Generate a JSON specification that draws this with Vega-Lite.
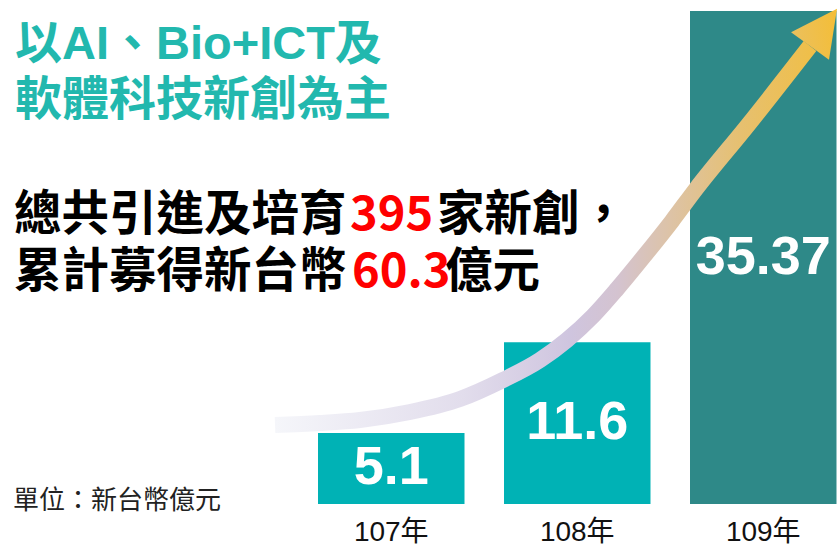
{
  "$schema": "https://vega.github.io/schema/vega-lite/v6.json",
  "width": 838,
  "height": 504,
  "autosize": {"type": "none"},
  "padding": {"left": 0, "top": 0, "right": 0, "bottom": 41},
  "background": "white",
  "config": {"view": {"stroke": null}},
  "datasets": {
    "bars": [
      {"year": "107年", "value": 5.1},
      {"year": "108年", "value": 11.6},
      {"year": "109年", "value": 35.37}
    ],
    "arrow": [
      {"ax": 32.82, "ay": 15.67},
      {"ax": 38.19, "ay": 16.07},
      {"ax": 42.96, "ay": 16.67},
      {"ax": 48.93, "ay": 18.25},
      {"ax": 54.89, "ay": 20.83},
      {"ax": 60.02, "ay": 24.60},
      {"ax": 64.44, "ay": 28.57},
      {"ax": 67.66, "ay": 32.54},
      {"ax": 70.76, "ay": 37.30},
      {"ax": 73.63, "ay": 42.66},
      {"ax": 76.97, "ay": 49.40},
      {"ax": 80.19, "ay": 56.15},
      {"ax": 83.05, "ay": 62.50},
      {"ax": 89.26, "ay": 75.20},
      {"ax": 96.66, "ay": 90.87}
    ],
    "head": [{"ax": 96.66, "ay": 90.87}],
    "texts": [
      {"ax": 1.79, "ay": 91.07, "text": "以AI、Bio+ICT及", "group": "title"},
      {"ax": 1.79, "ay": 79.96, "text": "軟體科技新創為主", "group": "title"},
      {"ax": 1.67, "ay": 57.14, "text": "總共引進及培育", "group": "body"},
      {"ax": 41.77, "ay": 57.14, "text": "395", "group": "highlight"},
      {"ax": 52.15, "ay": 57.14, "text": "家新創，", "group": "body"},
      {"ax": 1.67, "ay": 45.83, "text": "累計募得新台幣", "group": "body"},
      {"ax": 42.0, "ay": 45.83, "text": "60.3", "group": "highlight"},
      {"ax": 53.1, "ay": 45.83, "text": "億元", "group": "body"},
      {"ax": 1.55, "ay": 0.6, "text": "單位：新台幣億元", "group": "unit"}
    ]
  },
  "layer": [
    {
      "data": {"name": "bars"},
      "mark": {"type": "bar"},
      "encoding": {
        "x": {
          "field": "year",
          "type": "nominal",
          "sort": null,
          "scale": {"type": "band", "paddingInner": 0.2124, "paddingOuter": 0.8589, "align": 0.9953},
          "axis": {
            "title": null,
            "domain": false,
            "ticks": false,
            "tickSize": 0,
            "grid": false,
            "labelAngle": 0,
            "labelPadding": 28,
            "labelBaseline": "middle",
            "labelFontSize": 28,
            "labelFont": "Liberation Sans, Noto Sans CJK TC",
            "labelFontWeight": "normal",
            "labelColor": "#111111"
          }
        },
        "y": {
          "field": "value",
          "type": "quantitative",
          "scale": {"domain": [0, 36.16], "nice": false},
          "axis": null
        },
        "color": {
          "field": "year",
          "type": "nominal",
          "scale": {"domain": ["107年", "108年", "109年"], "range": ["#00B2B5", "#00B2B5", "#2E8988"]},
          "legend": null
        }
      }
    },
    {
      "data": {"name": "arrow"},
      "mark": {
        "type": "line",
        "strokeWidth": 16,
        "interpolate": "monotone",
        "strokeCap": "butt",
        "stroke": {
          "gradient": "linear",
          "x1": 0, "y1": 0, "x2": 1, "y2": 0,
          "stops": [
            {"offset": 0, "color": "#F5F6FA"},
            {"offset": 0.35, "color": "#E2DDEC"},
            {"offset": 0.55, "color": "#CFC5DF"},
            {"offset": 0.64, "color": "#D4C3D0"},
            {"offset": 0.74, "color": "#DDC3A6"},
            {"offset": 0.87, "color": "#E6C070"},
            {"offset": 1, "color": "#EFBF4A"}
          ]
        }
      },
      "encoding": {
        "x": {"field": "ax", "type": "quantitative", "scale": {"domain": [0, 100], "nice": false, "zero": false}, "axis": null},
        "y": {"field": "ay", "type": "quantitative", "scale": {"domain": [0, 100], "nice": false, "zero": false}, "axis": null}
      }
    },
    {
      "data": {"name": "head"},
      "mark": {
        "type": "point",
        "filled": true,
        "opacity": 1,
        "shape": "M0,-1L0.51,0L-0.51,0Z",
        "size": 8464,
        "angle": 36,
        "strokeWidth": 0,
        "fill": {
          "gradient": "linear",
          "x1": 0, "y1": 1, "x2": 1, "y2": 0,
          "stops": [
            {"offset": 0, "color": "#EBC05E"},
            {"offset": 1, "color": "#F7BD28"}
          ]
        }
      },
      "encoding": {
        "x": {"field": "ax", "type": "quantitative", "scale": {"domain": [0, 100], "nice": false, "zero": false}, "axis": null},
        "y": {"field": "ay", "type": "quantitative", "scale": {"domain": [0, 100], "nice": false, "zero": false}, "axis": null}
      }
    },
    {
      "data": {"name": "bars"},
      "transform": [{"calculate": "datum.value / 2", "as": "mid"}],
      "mark": {"type": "text", "color": "white", "fontSize": 54, "fontWeight": "bold", "font": "Liberation Sans", "baseline": "middle", "align": "center"},
      "encoding": {
        "x": {
          "field": "year",
          "type": "nominal",
          "sort": null,
          "bandPosition": 0.5,
          "scale": {"type": "band", "paddingInner": 0.2124, "paddingOuter": 0.8589, "align": 0.9953},
          "axis": null
        },
        "y": {"field": "mid", "type": "quantitative", "scale": {"domain": [0, 36.16], "nice": false}, "axis": null},
        "text": {"field": "value", "type": "nominal"}
      }
    },
    {
      "data": {"name": "texts"},
      "layer": [
        {
          "transform": [{"filter": "datum.group === 'title'"}],
          "mark": {"type": "text", "align": "left", "baseline": "middle", "font": "Liberation Sans, Noto Sans CJK TC", "fontSize": 47, "fontWeight": "bold", "color": "#22B8AE"},
          "encoding": {
            "x": {"field": "ax", "type": "quantitative", "scale": {"domain": [0, 100], "nice": false, "zero": false}, "axis": null},
            "y": {"field": "ay", "type": "quantitative", "scale": {"domain": [0, 100], "nice": false, "zero": false}, "axis": null},
            "text": {"field": "text"}
          }
        },
        {
          "transform": [{"filter": "datum.group === 'body'"}],
          "mark": {"type": "text", "align": "left", "baseline": "middle", "font": "Noto Sans CJK TC", "fontSize": 47.5, "fontWeight": "bold", "color": "#000000"},
          "encoding": {
            "x": {"field": "ax", "type": "quantitative", "scale": {"domain": [0, 100], "nice": false, "zero": false}, "axis": null},
            "y": {"field": "ay", "type": "quantitative", "scale": {"domain": [0, 100], "nice": false, "zero": false}, "axis": null},
            "text": {"field": "text"}
          }
        },
        {
          "transform": [{"filter": "datum.group === 'highlight'"}],
          "mark": {"type": "text", "align": "left", "baseline": "middle", "font": "Noto Sans CJK TC", "fontSize": 47, "fontWeight": "bold", "color": "#FF0000"},
          "encoding": {
            "x": {"field": "ax", "type": "quantitative", "scale": {"domain": [0, 100], "nice": false, "zero": false}, "axis": null},
            "y": {"field": "ay", "type": "quantitative", "scale": {"domain": [0, 100], "nice": false, "zero": false}, "axis": null},
            "text": {"field": "text"}
          }
        },
        {
          "transform": [{"filter": "datum.group === 'unit'"}],
          "mark": {"type": "text", "align": "left", "baseline": "middle", "font": "Noto Sans CJK TC", "fontSize": 26, "fontWeight": "normal", "color": "#222222"},
          "encoding": {
            "x": {"field": "ax", "type": "quantitative", "scale": {"domain": [0, 100], "nice": false, "zero": false}, "axis": null},
            "y": {"field": "ay", "type": "quantitative", "scale": {"domain": [0, 100], "nice": false, "zero": false}, "axis": null},
            "text": {"field": "text"}
          }
        }
      ]
    }
  ],
  "resolve": {"scale": {"x": "independent", "y": "independent", "color": "independent"}}
}
